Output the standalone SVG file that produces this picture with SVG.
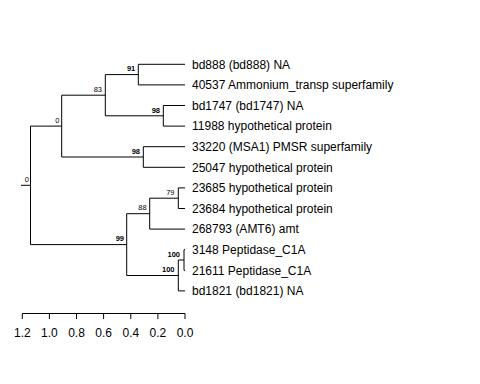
<svg xmlns="http://www.w3.org/2000/svg" width="480" height="384" viewBox="0 0 480 384">
<style>
.e{stroke:#000;stroke-width:1;fill:none}
.tip{font-family:"Liberation Sans",Arial,sans-serif;font-size:12px;fill:#000}
.bl{font-family:"Liberation Sans",Arial,sans-serif;font-size:7.5px;fill:#000;text-anchor:end}
.b{font-weight:bold}
.ax{font-family:"Liberation Sans",Arial,sans-serif;font-size:12px;fill:#000;text-anchor:middle}
</style>
<rect width="480" height="384" fill="#fff"/>
<g id="connectors">
<path class="e" d="M21,185.3H30.5M30.5,126.1V244.6M30.5,126.1H61.7M30.5,244.6H126.7"/>
<path class="e" d="M61.7,95.2V157M61.7,95.2H105.3M61.7,157H143.3"/>
<path class="e" d="M105.3,74.6V115.8M105.3,74.6H138.3M105.3,115.8H163.3"/>
<path class="e" d="M138.3,64.3V84.9M138.3,64.3H185M138.3,84.9H185"/>
<path class="e" d="M163.3,105.5V126.1M163.3,105.5H185M163.3,126.1H185"/>
<path class="e" d="M143.3,146.7V167.3M143.3,146.7H185M143.3,167.3H185"/>
<path class="e" d="M126.7,213.7V275.5M126.7,213.7H149.7M126.7,275.5H178.3"/>
<path class="e" d="M149.7,198.2V229.1M149.7,198.2H178.3M149.7,229.1H185"/>
<path class="e" d="M178.3,187.9V208.5M178.3,187.9H185M178.3,208.5H185"/>
<path class="e" d="M178.3,260V290.9M178.3,260H184M178.3,290.9H185"/>
<path class="e" d="M184,249.7V270.3M184,249.7H185M184,270.3H185"/>
</g>
<g id="node-labels">
<text class="bl" x="29" y="182">0</text>
<text class="bl" x="59.3" y="122.8">0</text>
<text class="bl" x="102" y="91.9">83</text>
<text class="bl b" x="135.3" y="71.3">91</text>
<text class="bl b" x="160" y="112.5">98</text>
<text class="bl b" x="140" y="153.7">98</text>
<text class="bl b" x="124" y="241.3">99</text>
<text class="bl" x="146.7" y="210.4">88</text>
<text class="bl" x="174.5" y="194.9">79</text>
<text class="bl b" x="180" y="256.7">100</text>
<text class="bl b" x="174.5" y="272.2">100</text>
</g>
<g id="tip1"><text class="tip" x="192" y="68.6">bd888 (bd888) NA</text></g>
<g id="tip2"><text class="tip" x="192" y="89.2">40537 Ammonium_transp superfamily</text></g>
<g id="tip3"><text class="tip" x="192" y="109.8">bd1747 (bd1747) NA</text></g>
<g id="tip4"><text class="tip" x="192" y="130.4">11988 hypothetical protein</text></g>
<g id="tip5"><text class="tip" x="192" y="151">33220 (MSA1) PMSR superfamily</text></g>
<g id="tip6"><text class="tip" x="192" y="171.6">25047 hypothetical protein</text></g>
<g id="tip7"><text class="tip" x="192" y="192.2">23685 hypothetical protein</text></g>
<g id="tip8"><text class="tip" x="192" y="212.8">23684 hypothetical protein</text></g>
<g id="tip9"><text class="tip" x="192" y="233.4">268793 (AMT6) amt</text></g>
<g id="tip10"><text class="tip" x="192" y="254">3148 Peptidase_C1A</text></g>
<g id="tip11"><text class="tip" x="192" y="274.6">21611 Peptidase_C1A</text></g>
<g id="tip12"><text class="tip" x="192" y="295.2">bd1821 (bd1821) NA</text></g>
<g id="axis">
<path class="e" d="M22.3,313.5H185M22.3,313.5V319M49.4,313.5V319M76.5,313.5V319M103.6,313.5V319M130.8,313.5V319M157.9,313.5V319M185,313.5V319"/>
<text class="ax" x="22.3" y="337">1.2</text>
<text class="ax" x="49.4" y="337">1.0</text>
<text class="ax" x="76.5" y="337">0.8</text>
<text class="ax" x="103.6" y="337">0.6</text>
<text class="ax" x="130.8" y="337">0.4</text>
<text class="ax" x="157.9" y="337">0.2</text>
<text class="ax" x="185" y="337">0.0</text>
</g>
</svg>
